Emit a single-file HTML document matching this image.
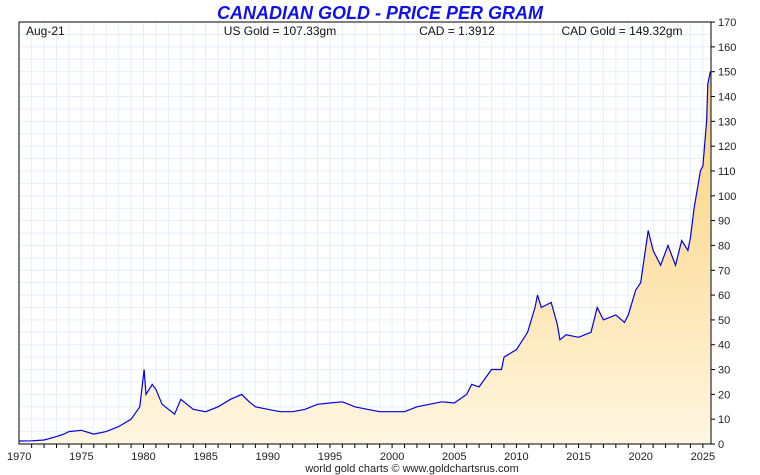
<!DOCTYPE html>
<html><head><meta charset="utf-8"><style>
body{margin:0;background:#fff;}
svg{display:block;font-family:"Liberation Sans",sans-serif;}
</style></head><body>
<svg id="c" width="760" height="475">
<defs><linearGradient id="g" x1="0" y1="0" x2="0" y2="1">
<stop offset="0" stop-color="#fbd27a"/><stop offset="0.6" stop-color="#fde6b4"/><stop offset="1" stop-color="#fff6e2"/></linearGradient></defs>
<text x="380" y="19" text-anchor="middle" font-size="18" font-weight="bold" font-style="italic" fill="#1010ee">CANADIAN GOLD - PRICE PER GRAM</text>
<g id="grid"></g>
<path id="area" fill="url(#g)"></path>
<path id="line" fill="none" stroke="#0000ee" stroke-width="1.2"></path>
<rect x="19" y="22" width="692" height="422" fill="none" stroke="#000" stroke-width="1"/>
<g id="axes" font-size="11" fill="#222"></g>
<g font-size="12" fill="#111">
<text x="26" y="35">Aug-21</text>
<text x="280" y="35" text-anchor="middle">US Gold = 107.33gm</text>
<text x="457" y="35" text-anchor="middle">CAD = 1.3912</text>
<text x="622" y="35" text-anchor="middle">CAD Gold = 149.32gm</text>
</g>
<text x="412" y="472" text-anchor="middle" font-size="11" fill="#222">world gold charts © www.goldchartsrus.com</text>
</svg>
<script>
const years=[1970,1971,1972,1973,1973.6,1974,1975,1976,1977,1978,1979,1979.7,1980.05,1980.2,1980.7,1981,1981.5,1982.5,1983,1983.5,1984,1985,1986,1987,1987.9,1988.5,1989,1990,1991,1992,1993,1994,1995,1996,1997,1998,1999,2000,2001,2002,2003,2004,2005,2006,2006.4,2007,2008,2008.8,2009,2010,2010.9,2011.5,2011.7,2012,2012.8,2013.3,2013.5,2014,2015,2016,2016.5,2017,2018,2018.7,2019,2019.6,2020,2020.6,2021,2021.6,2022.2,2022.8,2023.3,2023.8,2024,2024.3,2024.8,2025,2025.3,2025.4,2025.6];
const prices=[1.2,1.3,1.6,3,4,5,5.5,4,5,7,10,15,30,20,24,22,16,12,18,16,14,13,15,18,20,17,15,14,13,13,14,16,16.5,17,15,14,13,13,13,15,16,17,16.5,20,24,23,30,30,35,38,45,55,60,55,57,48,42,44,43,45,55,50,52,49,52,62,65,86,78,72,80,72,82,78,83,95,110,112,130,145,150];
const yTicks=[0,10,20,30,40,50,60,70,80,90,100,110,120,130,140,150,160,170];
const xTicks=[1970,1975,1980,1985,1990,1995,2000,2005,2010,2015,2020,2025];
const X=v=>19.2+(v-1970)*12.43, Y=v=>444-v*2.482;
const grid=document.getElementById('grid'),axes=document.getElementById('axes'),NS='http://www.w3.org/2000/svg';
function el(t,a,p){const e=document.createElementNS(NS,t);for(const k in a)e.setAttribute(k,a[k]);p.appendChild(e);return e;}
for(let yr=1971;yr<=2025;yr++){const l=el('line',{x1:X(yr),x2:X(yr),y1:22,y2:444,stroke:'#e4effa','stroke-width':1},grid);


const t=el('line',{x1:X(yr),x2:X(yr),y1:444,y2:448,stroke:'#000'},axes);

}
for(let v=5;v<170;v+=5){const l=el('line',{x1:19,x2:711,y1:Y(v),y2:Y(v),stroke:'#e4effa','stroke-width':1},grid);

}
yTicks.forEach(v=>{const t=el('line',{x1:711,x2:715,y1:Y(v),y2:Y(v),stroke:'#000'},axes);


const s=el('text',{x:718,y:Y(v)+4},axes);s.textContent=v;

});
xTicks.forEach(v=>{const s=el('text',{x:X(v),y:460,'text-anchor':'middle'},axes);s.textContent=v;

});
let d='';years.forEach((yr,i)=>{d+=(i?'L':'M')+X(yr).toFixed(1)+','+Y(prices[i]).toFixed(1);});
const line=document.getElementById('line');line.setAttribute('d',d);


const area=document.getElementById('area');
area.setAttribute('d',d+'L'+X(years[years.length-1]).toFixed(1)+',444L'+X(years[0]).toFixed(1)+',444Z');


</script>
</body></html>
